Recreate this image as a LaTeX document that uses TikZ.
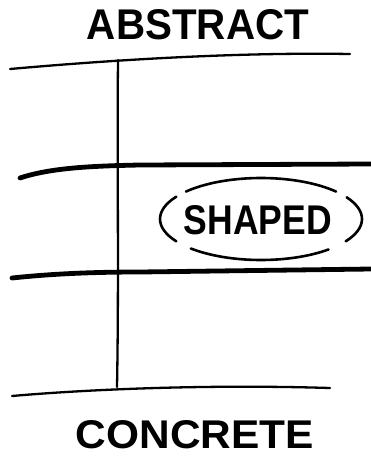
\documentclass[tikz,border=0pt]{standalone}
\usepackage{graphicx}
\usepackage{fontspec}
\setmainfont{Liberation Sans}
\tikzset{
  thinline/.style={line width=2.3pt, line cap=round, line join=round},
  thickline/.style={line width=4.8pt, line cap=round, line join=round},
  ovalarc/.style={line width=2.6pt, line cap=round},
  label/.style={inner sep=0pt, font=\bfseries}
}
\begin{document}
\begin{tikzpicture}[x=1pt,y=-1pt]
\useasboundingbox[fill=white] (0,0) rectangle (371,456);
% labels
\node[label] (abstract) at (198,25) {\resizebox{222pt}{30pt}{ABSTRACT}};
\node[label] (concrete) at (195,435) {\resizebox{238pt}{28pt}{CONCRETE}};
\node[label] (shaped) at (258,220) {\resizebox{148pt}{29pt}{SHAPED}};
% horizontal lines
\draw[thinline] (10,69) .. controls (100,61) and (230,52) .. (350,54);
\draw[thickline] (20,178) .. controls (50,168) and (90,166) .. (140,165) -- (371,164);
\draw[thickline] (12,278) .. controls (50,274) and (90,272) .. (140,272) -- (371,269);
\draw[thinline] (12,396) .. controls (80,390) and (200,384) .. (330,388);
% vertical line
\draw[thinline] (118,60) .. controls (117,160) and (119,280) .. (117,387);
% oval around SHAPED
\coordinate (oc) at (261,219);
\draw[ovalarc] (oc) ++(222:101 and 41) arc[start angle=222, end angle=318, x radius=101, y radius=41];
\draw[ovalarc] (oc) ++(147:101 and 41) arc[start angle=147, end angle=213, x radius=101, y radius=41];
\draw[ovalarc] (oc) ++(48:101 and 41) arc[start angle=48, end angle=134, x radius=101, y radius=41];
\draw[ovalarc] (oc) ++(-32:101 and 41) arc[start angle=-32, end angle=33, x radius=101, y radius=41];
\end{tikzpicture}
\end{document}
